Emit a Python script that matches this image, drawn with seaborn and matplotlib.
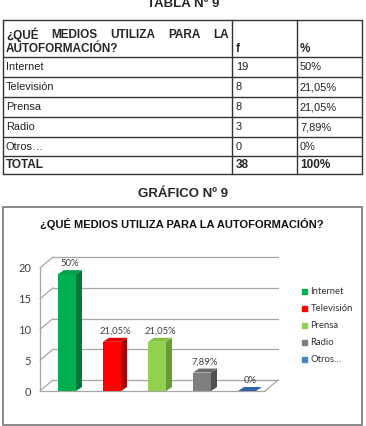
#!/usr/bin/env python
# -*- coding: utf-8 -*-

import seaborn as sns
import numpy as np
import matplotlib
matplotlib.use('Agg')
import matplotlib.pyplot as plt
from matplotlib.patches import Polygon, Rectangle
from matplotlib.lines import Line2D

# ---------------- data
medios = ['Internet', 'Televisión', 'Prensa', 'Radio', 'Otros…']
frecuencia = [19, 8, 8, 3, 0]
porcentaje = ['50%', '21,05%', '21,05%', '7,89%', '0%']
total_f = '38'
total_pct = '100%'
y_ticks = [0, 5, 10, 15, 20]

pregunta = '¿QUÉ MEDIOS UTILIZA PARA LA AUTOFORMACIÓN?'

front_colors = ['#00B050', '#FF0000', '#92D050', '#7F7F7F', '#2F5597']
side_colors = ['#007A36', '#A80000', '#679A34', '#505050', '#1F3C70']
top_colors = ['#00A048', '#E00000', '#84C044', '#6A6A6A', '#3565A8']
legend_colors = ['#00B050', '#FF0000', '#92D050', '#7F7F7F', '#4F81BD']

sns.set_style('white')
plt.rcParams['font.family'] = ['Lato', 'DejaVu Sans']
TAB = 'Liberation Sans'

W, H = 366, 426
fig = plt.figure(figsize=(W / 100, H / 100), dpi=100)

# overlay in pixel coordinates for table, captions and chart frame
ov = fig.add_axes([0, 0, 1, 1], zorder=0)
ov.set_xlim(0, W)
ov.set_ylim(H, 0)
ov.axis('off')

# ---------------- table
ov.text(183, 7, 'TABLA Nº 9', family=TAB, weight='bold', fontsize=9.5,
        ha='center', va='baseline')

col_x = [3, 232, 297, 362]
row_y = [20, 56.5, 76.5, 96.5, 116.5, 136.5, 156, 173.5]
for y in row_y:
    ov.plot([col_x[0], col_x[-1]], [y, y], color='#333333', lw=1.0)
for x in col_x:
    ov.plot([x, x], [row_y[0], row_y[-1]], color='#333333', lw=1.0)

# header, first line justified inside the cell
words = pregunta.split()
line1 = words[:5]
txts = [ov.text(0, 35, w, family=TAB, weight='bold', fontsize=8.5, ha='left', va='center')
        for w in line1]
fig.canvas.draw()
rend = fig.canvas.get_renderer()
widths = [t.get_window_extent(rend).width for t in txts]
x0, x1 = 6, 229
gap = (x1 - x0 - sum(widths)) / (len(widths) - 1)
xpos = x0
for t, w in zip(txts, widths):
    t.set_x(xpos)
    xpos += w + gap
ov.text(x0, 48.5, words[5], family=TAB, weight='bold', fontsize=8.5, ha='left', va='center')
ov.text(236, 49, 'f', family=TAB, weight='bold', fontsize=8.5, ha='left', va='center')
ov.text(300, 49, '%', family=TAB, weight='bold', fontsize=8.5, ha='left', va='center')

for i, (m, f, p) in enumerate(zip(medios, frecuencia, porcentaje)):
    yc = (row_y[i + 1] + row_y[i + 2]) / 2 + 0.5
    ov.text(6, yc, m, family=TAB, fontsize=7.9, ha='left', va='center', color='#222222')
    ov.text(236, yc, str(f), family=TAB, fontsize=7.9, ha='left', va='center', color='#222222')
    ov.text(300, yc, p, family=TAB, fontsize=7.9, ha='left', va='center', color='#222222')
yc = (row_y[-2] + row_y[-1]) / 2 + 0.5
ov.text(6, yc, 'TOTAL', family=TAB, weight='bold', fontsize=8.5, ha='left', va='center')
ov.text(236, yc, total_f, family=TAB, weight='bold', fontsize=8.5, ha='left', va='center')
ov.text(300, yc, total_pct, family=TAB, weight='bold', fontsize=8.5, ha='left', va='center')

ov.text(183, 194, 'GRÁFICO Nº 9', family=TAB, weight='bold', fontsize=9.5,
        ha='center', va='center')

# ---------------- chart frame and title
ov.add_patch(Rectangle((3, 207), 359, 218, fill=False, edgecolor='#7F7F7F', lw=1.3))
ov.text(182, 224, pregunta, family=TAB, weight='bold', fontsize=8,
        ha='center', va='center', color='#111111')

# ---------------- 3D-looking bar chart
ax = fig.add_axes([40 / W, (H - 391) / H, 225 / W, 123 / H], zorder=1)
ax.patch.set_alpha(0)
sns.barplot(x=medios, y=frecuencia, hue=medios, palette=front_colors,
            width=0.4, saturation=1, legend=False, ax=ax)

xmin, xmax = -0.6, 4.4
ax.set_xlim(xmin, xmax)
ax.set_ylim(0, 20)
px_x = 225 / (xmax - xmin)
px_y = 123 / 20.0
bx, by = 13 / px_x, 11 / px_y       # depth of back wall
dx, dy = 6 / px_x, 4 / px_y         # depth of bars

grid_kw = dict(color='#A6A6A6', lw=0.9, clip_on=False, zorder=0)
for v in y_ticks:
    ax.plot([xmin, xmin + bx], [v, v + by], **grid_kw)
    ax.plot([xmin + bx, xmax + bx], [v + by, v + by], **grid_kw)
ax.plot([xmin, xmin], [0, 20], **grid_kw)
ax.plot([xmin, xmax], [0, 0], **grid_kw)
ax.plot([xmax, xmax + bx], [0, by], **grid_kw)

for i, bar in enumerate(ax.patches):
    x = bar.get_x()
    w = bar.get_width()
    h = bar.get_height()
    side = Polygon([(x + w, 0), (x + w + dx, dy), (x + w + dx, h + dy), (x + w, h)],
                   closed=True, facecolor=side_colors[i], edgecolor='none', zorder=3,
                   clip_on=False)
    top = Polygon([(x, h), (x + dx, h + dy), (x + w + dx, h + dy), (x + w, h)],
                  closed=True, facecolor=top_colors[i], edgecolor='none', zorder=3,
                  clip_on=False)
    ax.add_patch(side)
    ax.add_patch(top)
    bar.set_zorder(3)
    bar.set_edgecolor('none')
    ax.annotate(porcentaje[i], (x + (w + dx) / 2, h + dy), xytext=(0, 1.5),
                textcoords='offset points', ha='center', va='bottom',
                fontsize=6.8, color='#404040', annotation_clip=False)

ax.set_yticks(y_ticks)
ax.set_xticks([])
ax.tick_params(axis='y', length=0, pad=6.5, labelsize=8, labelcolor='#404040')
ax.set_xlabel('')
ax.set_ylabel('')
for s in ax.spines.values():
    s.set_visible(False)

handles = [Line2D([], [], marker='s', ls='', color=c, markersize=3.6) for c in legend_colors]
fig.legend(handles, medios, loc='upper left', bbox_to_anchor=(301 / W, 1 - 287 / H),
           frameon=False, fontsize=6.8, handlelength=0.6, handletextpad=0.4,
           labelspacing=0.85, borderpad=0, borderaxespad=0, labelcolor='#333333')

fig.savefig('out.png', dpi=100)
